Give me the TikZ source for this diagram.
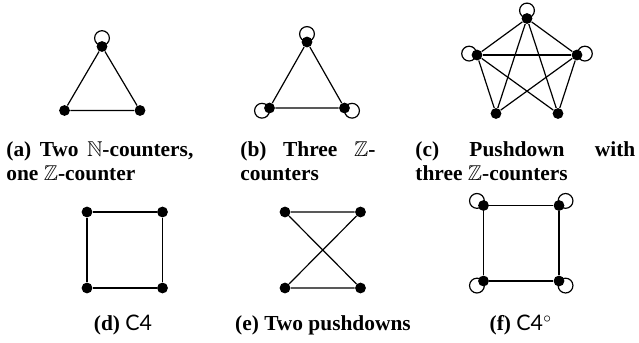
\documentclass[tikz,border=0pt]{standalone}
\usepackage{amssymb}
\usepackage{fontspec}
\setmainfont{Liberation Serif}
\setsansfont{Lato}
\tikzset{
  vert/.style={circle, fill=black, inner sep=0pt, minimum size=5.4pt},
  edgeline/.style={line width=0.6pt},
  captext/.style={inner sep=0pt, font=\fontsize{10.7}{12}\selectfont\bfseries}
}
\begin{document}
\begin{tikzpicture}[x=0.5pt, y=-0.5pt]
                \useasboundingbox (0,0) rectangle (639,343);

                % (a) triangle, one loop
                \node[vert] (a1) at (102,46.5) {};
                \node[vert] (a2) at (64.5,110.5) {};
                \node[vert] (a3) at (140,110.5) {};
                \draw[edgeline] (a1) -- (a2) -- (a3) -- (a1);
                \draw[edgeline] (a1) ++(90:4.2pt) circle[radius=3.7pt];

                % (b) triangle, three loops
                \node[vert] (b1) at (307,42) {};
                \node[vert] (b2) at (269.5,108) {};
                \node[vert] (b3) at (344.5,108) {};
                \draw[edgeline] (b1) -- (b2) -- (b3) -- (b1);
                \foreach \n/\a in {b1/90, b2/200, b3/340}
                    \draw[edgeline] (\n) ++(\a:4pt) circle[radius=3.7pt];

                % (c) pentagon
                \node[vert] (c1) at (527,18.5) {};
                \node[vert] (c2) at (477,55) {};
                \node[vert] (c3) at (577,55) {};
                \node[vert] (c4) at (496,113.5) {};
                \node[vert] (c5) at (558,113.5) {};
                \foreach \u/\v in {c1/c2, c1/c3, c2/c3, c1/c4, c1/c5, c2/c4, c2/c5, c3/c4, c3/c5}
                    \draw[edgeline] (\u) -- (\v);
                \foreach \n/\a in {c1/90, c2/170, c3/10}
                    \draw[edgeline] (\n) ++(\a:4pt) circle[radius=3.7pt];

                % (d) square
                \node[vert] (d1) at (87,212) {};
                \node[vert] (d2) at (162.5,212) {};
                \node[vert] (d3) at (87,288) {};
                \node[vert] (d4) at (162.5,288) {};
                \draw[edgeline] (d1) -- (d2) -- (d4) -- (d3) -- (d1);

                % (e) crossed
                \node[vert] (e1) at (285,212) {};
                \node[vert] (e2) at (360.5,212) {};
                \node[vert] (e3) at (285,288) {};
                \node[vert] (e4) at (360.5,288) {};
                \draw[edgeline] (e1) -- (e2) -- (e3) -- (e4) -- (e1);

                % (f) square with loops
                \node[vert] (f1) at (483.5,205.5) {};
                \node[vert] (f2) at (559,205.5) {};
                \node[vert] (f3) at (483.5,281) {};
                \node[vert] (f4) at (559,281) {};
                \draw[edgeline] (f1) -- (f2) -- (f4) -- (f3) -- (f1);
                \foreach \n/\a in {f1/145, f2/35, f3/215, f4/325}
                    \draw[edgeline] (\n) ++(\a:4pt) circle[radius=3.7pt];

                % Captions
                \node[captext, anchor=base west] (capa1) at (6,156) {\makebox[93.5pt][s]{(a) Two $\mathbb{N}$-counters,}};
                \node[captext, anchor=base west] (capa2) at (6,180) {one $\mathbb{Z}$-counter};
                \node[captext, anchor=base west] (capb1) at (240,156) {\makebox[67.5pt][s]{(b) Three $\mathbb{Z}$-}};
                \node[captext, anchor=base west] (capb2) at (240,180) {counters};
                \node[captext, anchor=base west] (capc1) at (415,156) {\makebox[110pt][s]{(c) Pushdown with}};
                \node[captext, anchor=base west] (capc2) at (415,180) {three $\mathbb{Z}$-counters};
                \node[captext, anchor=base] (capd) at (123,330) {(d) {\sffamily\mdseries C4}};
                \node[captext, anchor=base] (cape) at (323,330) {(e) Two pushdowns};
                \node[captext, anchor=base] (capf) at (521,330) {(f) {\sffamily\mdseries C4$^{\circ}$}};
            \end{tikzpicture}
\end{document}
